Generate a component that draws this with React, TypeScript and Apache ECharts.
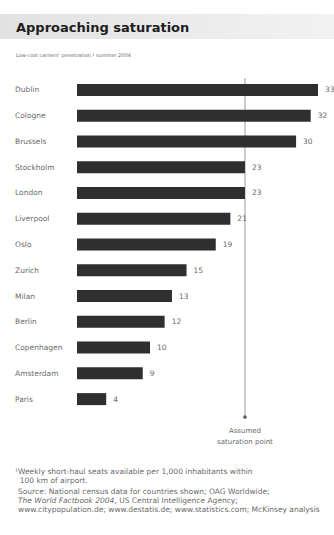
import React, { useEffect, useRef } from "react";
import * as echarts from "echarts";

const cities = [
  "Dublin", "Cologne", "Brussels", "Stockholm", "London", "Liverpool", "Oslo",
  "Zurich", "Milan", "Berlin", "Copenhagen", "Amsterdam", "Paris",
];
const penetration = [33, 32, 30, 23, 23, 21, 19, 15, 13, 12, 10, 9, 4];
const saturationPoint = 23;
const axisMax = 33;

const FONT = "'DejaVu Sans', Verdana, sans-serif";
const GRAY = "#6a6a6a";

export default function App() {
  const ref = useRef<HTMLDivElement>(null);
  useEffect(() => {
    if (!ref.current) return;
    const chart = echarts.init(ref.current, null, { renderer: "svg" });
    chart.setOption({
      animation: false,
      backgroundColor: "#ffffff",
      textStyle: { fontFamily: FONT },
      grid: { left: 77, right: 16, top: 77, bottom: 123, containLabel: false },
      xAxis: {
        type: "value",
        min: 0,
        max: axisMax,
        show: false,
      },
      yAxis: {
        type: "category",
        data: cities,
        inverse: true,
        axisLine: { show: false },
        axisTick: { show: false },
        axisLabel: {
          align: "left",
          margin: 62,
          fontSize: 7.5,
          color: GRAY,
          fontFamily: FONT,
        },
      },
      series: [
        {
          type: "bar",
          data: penetration,
          barWidth: 12,
          itemStyle: { color: "#2f2f2f" },
          label: {
            show: true,
            position: "right",
            distance: 7,
            fontSize: 7.5,
            color: GRAY,
            fontFamily: FONT,
          },
          z: 3,
        },
      ],
    });
    const px = chart.convertToPixel({ xAxisIndex: 0 }, saturationPoint) as number;
    chart.setOption({
      graphic: [
        {
          type: "rect",
          shape: { x: 0, y: 14, width: 334, height: 25 },
          style: {
            fill: new echarts.graphic.LinearGradient(0, 0, 1, 0, [
              { offset: 0, color: "#e2e2e2" },
              { offset: 1, color: "#f2f2f2" },
            ]),
          },
          z: 0,
        },
        {
          type: "text",
          x: 16,
          y: 27,
          style: {
            text: "Approaching saturation",
            fontSize: 13,
            fontWeight: "bold",
            fill: "#1e1e1e",
            fontFamily: FONT,
            verticalAlign: "middle",
          },
          z: 1,
        },
        {
          type: "text",
          x: 16,
          y: 55,
          style: {
            text: "Low-cost carriers' penetration,\u00b9 summer 2004",
            fontSize: 5,
            fill: GRAY,
            fontFamily: FONT,
            verticalAlign: "middle",
          },
        },
        {
          type: "line",
          shape: { x1: px, y1: 78, x2: px, y2: 417 },
          style: { stroke: "#808080", lineWidth: 0.8 },
          z: 1,
        },
        {
          type: "circle",
          shape: { cx: px, cy: 417, r: 1.8 },
          style: { fill: "#555" },
        },
        {
          type: "text",
          x: px,
          y: 436,
          style: {
            text: "Assumed\nsaturation point",
            fontSize: 7,
            lineHeight: 11,
            fill: GRAY,
            align: "center",
            verticalAlign: "middle",
            fontFamily: FONT,
          },
        },
        {
          type: "text",
          x: 15,
          y: 467,
          style: {
            text: "\u00b9Weekly short-haul seats available per 1,000 inhabitants within\n  100 km of airport.",
            fontSize: 7.5,
            lineHeight: 9,
            fill: GRAY,
            fontFamily: FONT,
          },
        },
        {
          type: "text",
          x: 18,
          y: 487,
          style: {
            rich: {
              n: { fontSize: 7.5, fill: GRAY, fontFamily: FONT, lineHeight: 9 },
              i: { fontSize: 7.5, fill: GRAY, fontFamily: FONT, fontStyle: "italic", lineHeight: 9 },
            },
            text:
              "{n|Source: National census data for countries shown; OAG Worldwide;}\n" +
              "{i|The World Factbook 2004}{n|, US Central Intelligence Agency;}\n" +
              "{n|www.citypopulation.de; www.destatis.de; www.statistics.com; McKinsey analysis}",
            fontSize: 7.5,
            lineHeight: 9,
            fill: GRAY,
            fontFamily: FONT,
          },
        },
      ],
    });
    return () => chart.dispose();
  }, []);
  return (
    <div
      ref={ref}
      style={{ position: "absolute", left: 0, top: 0, width: 334, height: 535 }}
    />
  );
}
